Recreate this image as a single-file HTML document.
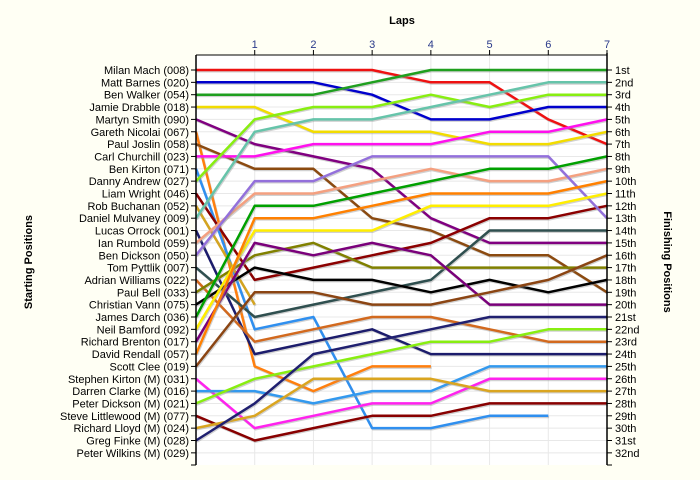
<!DOCTYPE html>
<html><head><meta charset="utf-8"><style>
html,body{margin:0;padding:0;background:#fffff4;}
svg{display:block;font-family:"Liberation Sans",Arial,sans-serif;}
</style></head><body>
<svg id="chart" width="700" height="480" viewBox="0 0 700 480" xmlns="http://www.w3.org/2000/svg">
<rect x="0" y="0" width="700" height="480" fill="#fffff4"/>
<text x="402" y="24" text-anchor="middle" font-size="11" font-weight="bold">Laps</text>
<text transform="translate(32,262) rotate(-90)" text-anchor="middle" font-size="11" font-weight="bold">Starting Positions</text>
<text transform="translate(664,262) rotate(90)" text-anchor="middle" font-size="11" font-weight="bold">Finishing Positions</text>
<g id="grid"></g><g id="series"></g><g id="axes"></g>
</svg>
<script>
const laps = [1,2,3,4,5,6,7];
const driverNames = ["Milan Mach (008)","Matt Barnes (020)","Ben Walker (054)","Jamie Drabble (018)","Martyn Smith (090)","Gareth Nicolai (067)","Paul Joslin (058)","Carl Churchill (023)","Ben Kirton (071)","Danny Andrew (027)","Liam Wright (046)","Rob Buchanan (052)","Daniel Mulvaney (009)","Lucas Orrock (001)","Ian Rumbold (059)","Ben Dickson (050)","Tom Pyttlik (007)","Adrian Williams (022)","Paul Bell (033)","Christian Vann (075)","James Darch (036)","Neil Bamford (092)","Richard Brenton (017)","David Rendall (057)","Scott Clee (019)","Stephen Kirton (M) (031)","Darren Clarke (M) (016)","Peter Dickson (M) (021)","Steve Littlewood (M) (077)","Richard Lloyd (M) (024)","Greg Finke (M) (028)","Peter Wilkins (M) (029)"];
const finishLabels = ["1st","2nd","3rd","4th","5th","6th","7th","8th","9th","10th","11th","12th","13th","14th","15th","16th","17th","18th","19th","20th","21st","22nd","23rd","24th","25th","26th","27th","28th","29th","30th","31st","32nd"];
// positions: [start, lap1..lap7]
const posMach = [1,1,1,1,2,2,5,7];
const posBarnes = [2,2,2,3,5,5,4,4];
const posWalker = [3,3,3,2,1,1,1,1];
const posDrabble = [4,4,6,6,6,7,7,6];
const posSmith = [5,7,8,9,13,15,15,15];
const posNicolai = [6,25,27,25,25];
const posJoslin = [7,9,9,13,14,16,16,19];
const posChurchill = [8,8,7,7,7,6,6,5];
const posKirton = [9,22,21,30,30,29,29];
const posAndrew = [10,5,4,4,3,4,3,3];
const posWright = [11,18,17,16,15,13,13,12];
const posBuchanan = [12,20];
const posMulvaney = [13,6,5,5,4,3,2,2];
const posOrrock = [14,24,23,22,24,24,24,24];
const posRumbold = [15,11,11,10,9,10,10,9];
const posDickson = [16,10,10,8,8,8,8,13];
const posPyttlik = [17,21,20,19,18,14,14,14];
const posWilliams = [18,23,22,21,21,22,23,23];
const posBell = [19,16,15,17,17,17,17,17];
const posVann = [20,17,18,18,19,18,19,18];
const posDarch = [21,12,12,11,10,9,9,8];
const posBamford = [22,14,14,14,12,12,12,11];
const posBrenton = [23,15,16,15,16,20,20,20];
const posRendall = [24,13,13,12,11,11,11,10];
const posClee = [25,19,19,20,20,19,18,16];
const posSKirton = [26,30,29,28,28,26,26,26];
const posClarke = [27,27,28,27,27,25,25,25];
const posPDickson = [28,26,25,24,23,23,22,22];
const posLittlewood = [29,31,30,29,29,28,28,28];
const posLloyd = [30,29,26,26,26,27,27,27];
const posFinke = [31,28,24,23,22,21,21,21];

const series = [
 ["milan-mach",posMach,"#ee1111"],["matt-barnes",posBarnes,"#0000cc"],["ben-walker",posWalker,"#1f9f1f"],
 ["jamie-drabble",posDrabble,"#f2dc00"],["martyn-smith",posSmith,"#800080"],["gareth-nicolai",posNicolai,"#ff7f0e"],
 ["paul-joslin",posJoslin,"#8b4a10"],["carl-churchill",posChurchill,"#ff10ee"],["ben-kirton",posKirton,"#2f8fef"],
 ["danny-andrew",posAndrew,"#88ee11"],["liam-wright",posWright,"#8b0000"],["rob-buchanan",posBuchanan,"#d4a420"],
 ["daniel-mulvaney",posMulvaney,"#66c4aa"],["lucas-orrock",posOrrock,"#1c1c6c"],["ian-rumbold",posRumbold,"#f4a080"],
 ["ben-dickson",posDickson,"#9370db"],["tom-pyttlik",posPyttlik,"#2f4f4f"],["adrian-williams",posWilliams,"#d2691e"],
 ["paul-bell",posBell,"#808000"],["christian-vann",posVann,"#000000"],["james-darch",posDarch,"#00a000"],
 ["neil-bamford",posBamford,"#ffee00"],["richard-brenton",posBrenton,"#7a007a"],["david-rendall",posRendall,"#ff8000"],
 ["scott-clee",posClee,"#8b4513"],["stephen-kirton",posSKirton,"#ff22ee"],["darren-clarke",posClarke,"#3399ee"],
 ["peter-dickson",posPDickson,"#88ee11"],["steve-littlewood",posLittlewood,"#880000"],["richard-lloyd",posLloyd,"#daa520"],
 ["greg-finke",posFinke,"#202070"]
];

const X0=196, X1=607, Y0=70, Ystep=12.35, TOP=55, BOT=465;
const xLap = l => X0 + l*(X1-X0)/7;
const yPos = p => Y0 + (p-1)*Ystep;
const NS="http://www.w3.org/2000/svg";
function mk(tag, attrs, parent){const e=document.createElementNS(NS,tag);for(const k in attrs)e.setAttribute(k,attrs[k]);parent.appendChild(e);return e;}
const grid=document.getElementById('grid'), sg=document.getElementById('series'), ax=document.getElementById('axes');
const plot=mk('rect',{x:X0,y:TOP,width:X1-X0,height:BOT-TOP,fill:'#ffffff'},grid);


for(let i=0;i<32;i++){
 const g=mk('line',{x1:X0,x2:X1,y1:yPos(i+1),y2:yPos(i+1),stroke:'#e8e8e8','stroke-width':1},grid);
 
 
}
laps.forEach(l=>{
 const g=mk('line',{x1:xLap(l),x2:xLap(l),y1:TOP,y2:BOT,stroke:'#e8e8e8','stroke-width':1},grid);
 
 
});
series.forEach(s=>{
 const pts=s[1].map((p,i)=>xLap(i).toFixed(1)+','+yPos(p).toFixed(1)).join(' ');
 const sh=mk('polyline',{points:pts,fill:'none',stroke:'#999','stroke-opacity':0.45,'stroke-width':2.5,transform:'translate(0.8,1.2)','stroke-linejoin':'round'},sg);
 
 
 const ln=mk('polyline',{points:pts,fill:'none',stroke:s[2],'stroke-width':2.5,'stroke-linejoin':'round'},sg);
 
 
});
const la=mk('line',{x1:X0,x2:X0,y1:TOP,y2:BOT,stroke:'#000','stroke-width':1.5},ax);


const ra=mk('line',{x1:X1,x2:X1,y1:TOP-2,y2:BOT,stroke:'#000','stroke-width':1.5},ax);


const ta=mk('line',{x1:X0,x2:X1,y1:TOP,y2:TOP,stroke:'#000','stroke-width':1},ax);


driverNames.forEach((n,i)=>{
 const y=yPos(i+1);
 const t=mk('line',{x1:X0-5,x2:X0,y1:y,y2:y,stroke:'#000'},ax);
 
 
 const tx=mk('text',{x:X0-7,y:y+4,'text-anchor':'end','font-size':11,fill:'#000'},ax);
 tx.textContent=n;
 
 
});
const lt=mk('line',{x1:X0-5,x2:X0,y1:BOT,y2:BOT,stroke:'#000'},ax);


finishLabels.forEach((n,i)=>{
 const y=yPos(i+1);
 const t=mk('line',{x1:X1,x2:X1+5,y1:y,y2:y,stroke:'#000'},ax);
 
 
 const tx=mk('text',{x:X1+8,y:y+4,'font-size':11,fill:'#000'},ax);
 tx.textContent=n;
 
 
});
const rt=mk('line',{x1:X1,x2:X1+5,y1:BOT,y2:BOT,stroke:'#000'},ax);


laps.forEach(l=>{
 const t=mk('line',{x1:xLap(l),x2:xLap(l),y1:TOP-5,y2:TOP,stroke:'#000'},ax);
 
 
 const tx=mk('text',{x:xLap(l),y:TOP-7,'text-anchor':'middle','font-size':11,fill:'#2a3a8a'},ax);
 tx.textContent=l;
 
 
});
</script>
</body></html>
